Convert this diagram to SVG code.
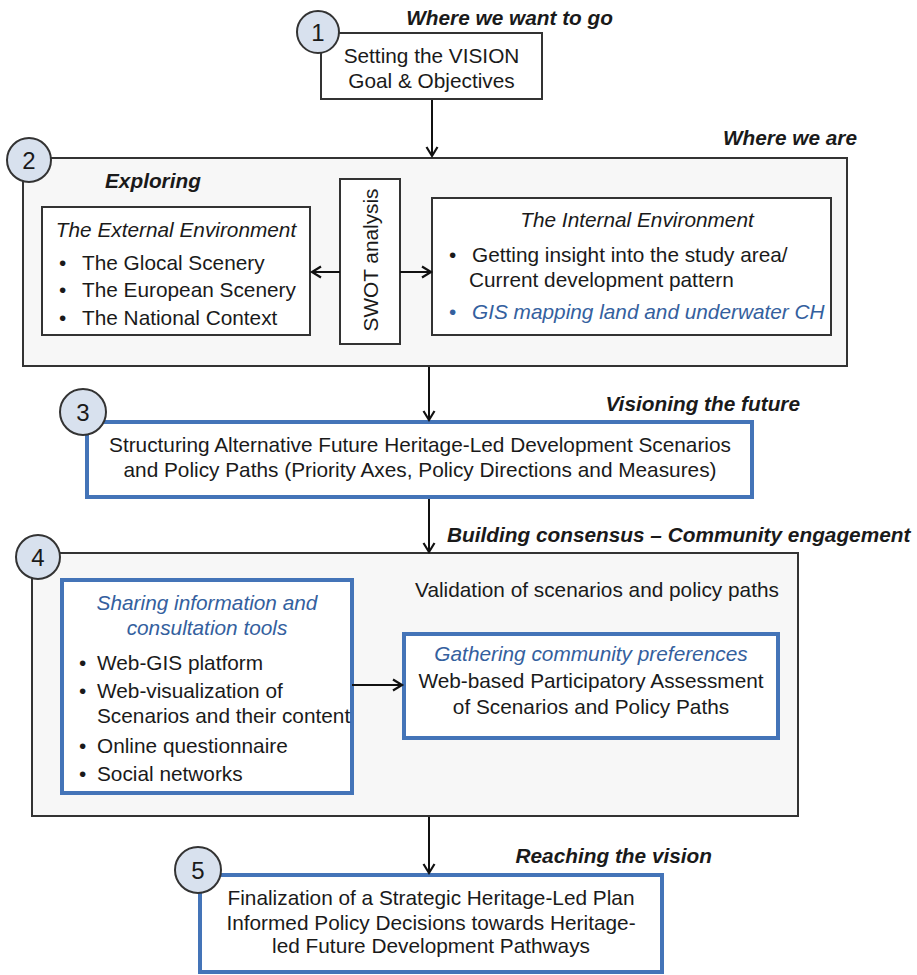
<svg xmlns="http://www.w3.org/2000/svg" width="917" height="975" viewBox="0 0 917 975">
<defs>
<marker id="arr" markerUnits="userSpaceOnUse" markerWidth="14" markerHeight="14" refX="11" refY="7" orient="auto">
<path d="M2,1.5 L11,7 L2,12.5" fill="none" stroke="#111" stroke-width="2.2"/>
</marker>
<style>
text{font-family:"Liberation Sans",Arial,sans-serif;font-size:20.8px;fill:#1a1a1a}
.mid{text-anchor:middle}
.end{text-anchor:end}
.lbl{font-weight:bold;font-style:italic}
.it{font-style:italic}
.blue{fill:#34609e}
.num{font-size:24px;text-anchor:middle}
.grey{fill:#f7f7f7;stroke:#333;stroke-width:2}
.white{fill:#fff;stroke:#333;stroke-width:2}
.bbox{fill:#fff;stroke:#4474b8;stroke-width:4}
.circ{fill:#d8e1ee;stroke:#333;stroke-width:2}
.con{stroke:#111;stroke-width:2;fill:none;marker-end:url(#arr)}
</style>
</defs>

<g id="step1">
<rect class="white" x="321" y="33" width="221" height="66"/>
<text class="mid" x="431.5" y="63">Setting the VISION</text>
<text class="mid" x="431.5" y="88">Goal &amp; Objectives</text>
<text class="lbl end" x="613" y="25">Where we want to go</text>
<circle class="circ" cx="318" cy="32" r="21"/>
<text class="num" x="318" y="41">1</text>
</g>

<g id="step2">
<rect class="grey" x="23" y="158" width="824" height="208"/>
<text class="lbl end" x="857" y="145">Where we are</text>
<text class="lbl" x="105" y="188">Exploring</text>
<circle class="circ" cx="29" cy="160" r="22"/>
<text class="num" x="29" y="169">2</text>
</g>

<g id="external">
<rect class="white" x="42" y="207" width="268" height="128"/>
<text class="it mid" x="176" y="237">The External Environment</text>
<text x="59" y="270">•</text><text x="82" y="270">The Glocal Scenery</text>
<text x="59" y="297">•</text><text x="82" y="297">The European Scenery</text>
<text x="59" y="325">•</text><text x="82" y="325">The National Context</text>
</g>

<g id="swot">
<rect class="white" x="340" y="179" width="60" height="165"/>
<text class="mid" transform="translate(378,260) rotate(-90)">SWOT analysis</text>
</g>

<g id="internal">
<rect class="white" x="432" y="198" width="399" height="137"/>
<text class="it mid" x="637" y="227">The Internal Environment</text>
<text x="449" y="262">•</text><text x="472" y="262">Getting insight into the study area/</text>
<text x="469" y="287">Current development pattern</text>
<text class="blue" x="449" y="319">•</text><text class="it blue" x="472" y="319">GIS mapping land and underwater CH</text>
</g>

<g id="step3">
<rect class="bbox" x="87" y="422" width="665" height="75"/>
<text class="lbl end" x="800" y="411">Visioning the future</text>
<text class="mid" x="420" y="452">Structuring Alternative Future Heritage-Led Development Scenarios</text>
<text class="mid" x="420" y="477">and Policy Paths (Priority Axes, Policy Directions and Measures)</text>
<circle class="circ" cx="83" cy="412" r="23"/>
<text class="num" x="83" y="421">3</text>
</g>

<g id="step4">
<rect class="grey" x="32" y="553" width="766" height="263"/>
<text class="lbl" x="447" y="542">Building consensus – Community engagement</text>
<text class="mid" x="597" y="597">Validation of scenarios and policy paths</text>
<circle class="circ" cx="38" cy="557" r="22"/>
<text class="num" x="38" y="566">4</text>
</g>

<g id="sharing">
<rect class="bbox" x="62" y="580" width="290" height="213"/>
<text class="it blue mid" x="207" y="610">Sharing information and</text>
<text class="it blue mid" x="207" y="635">consultation tools</text>
<text x="79" y="670">•</text><text x="97" y="670">Web-GIS platform</text>
<text x="79" y="698">•</text><text x="97" y="698">Web-visualization of</text>
<text x="97" y="723">Scenarios and their content</text>
<text x="79" y="753">•</text><text x="97" y="753">Online questionnaire</text>
<text x="79" y="781">•</text><text x="97" y="781">Social networks</text>
</g>

<g id="gathering">
<rect class="bbox" x="404" y="634" width="374" height="104"/>
<text class="it blue mid" x="591" y="661">Gathering community preferences</text>
<text class="mid" x="591" y="688">Web-based Participatory Assessment</text>
<text class="mid" x="591" y="714">of Scenarios and Policy Paths</text>
</g>

<g id="step5">
<rect class="bbox" x="200" y="875" width="462" height="97"/>
<text class="lbl end" x="712" y="863">Reaching the vision</text>
<text class="mid" x="431" y="905">Finalization of a Strategic Heritage-Led Plan</text>
<text class="mid" x="431" y="930">Informed Policy Decisions towards Heritage-</text>
<text class="mid" x="431" y="953">led Future Development Pathways</text>
<circle class="circ" cx="198" cy="870" r="23"/>
<text class="num" x="198" y="879">5</text>
</g>

<g id="connectors">
<line class="con" x1="432" y1="100" x2="432" y2="156"/>
<line class="con" x1="340" y1="272" x2="312" y2="272"/>
<line class="con" x1="400" y1="272" x2="431" y2="272"/>
<line class="con" x1="429" y1="367" x2="429" y2="420"/>
<line class="con" x1="429" y1="499" x2="429" y2="552"/>
<line class="con" x1="352" y1="685" x2="402" y2="685"/>
<line class="con" x1="429" y1="817" x2="429" y2="873"/>
</g>
</svg>
